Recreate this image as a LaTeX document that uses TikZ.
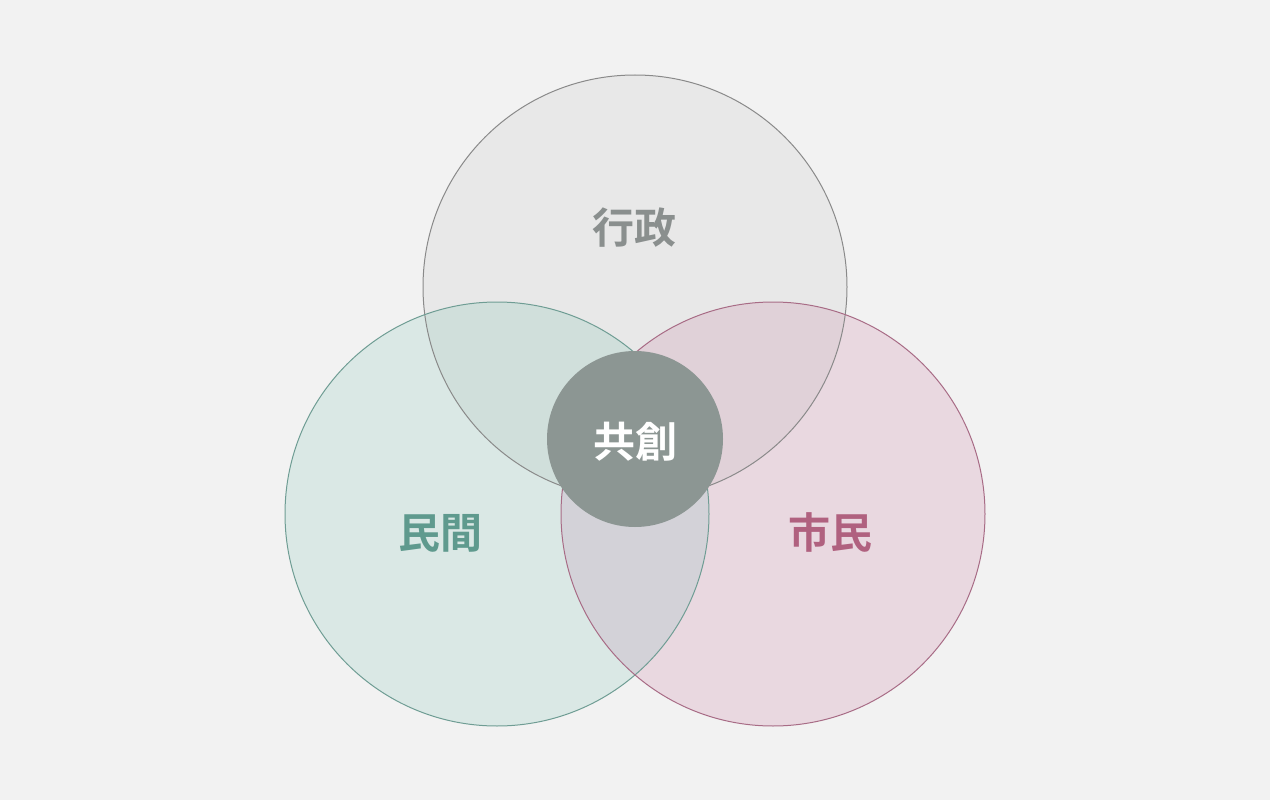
\documentclass[tikz,border=0pt]{standalone}
\usepackage{fontspec}
\newfontfamily\cjk{Noto Sans CJK JP}[BoldFont={* Bold}]
\definecolor{bg}{HTML}{F2F2F2}
\definecolor{topfill}{HTML}{E8E8E8}
\definecolor{leftfill}{HTML}{DAE8E5}
\definecolor{rightfill}{HTML}{E9D8E0}
\definecolor{tlfill}{HTML}{D0DFDB}
\definecolor{trfill}{HTML}{E0D1D8}
\definecolor{lrfill}{HTML}{D3D2D8}
\definecolor{topline}{HTML}{8A8A8A}
\definecolor{leftline}{HTML}{6F9D94}
\definecolor{rightline}{HTML}{A86C86}
\definecolor{coreclr}{HTML}{8C9693}
\definecolor{toptext}{HTML}{8A8F8E}
\definecolor{lefttext}{HTML}{5F9A8E}
\definecolor{righttext}{HTML}{B0617F}
\tikzset{
  lbl/.style={font=\cjk\bfseries\fontsize{42}{42}\selectfont, inner sep=0pt},
  ring/.style={line width=1pt}
}
\begin{document}
\begin{tikzpicture}[x=1pt,y=-1pt]
\fill[bg] (0,0) rectangle (1270,800);
\useasboundingbox (0,0) rectangle (1270,800);
\def\rr{212}
\coordinate (T) at (635,287);
\coordinate (L) at (497,514);
\coordinate (R) at (773,514);
% single fills
\fill[topfill] (T) circle[radius=\rr];
\fill[leftfill] (L) circle[radius=\rr];
\fill[rightfill] (R) circle[radius=\rr];
% pairwise overlaps
\begin{scope}
  \clip (T) circle[radius=\rr];
  \fill[tlfill] (L) circle[radius=\rr];
\end{scope}
\begin{scope}
  \clip (T) circle[radius=\rr];
  \fill[trfill] (R) circle[radius=\rr];
\end{scope}
\begin{scope}
  \clip (L) circle[radius=\rr];
  \fill[lrfill] (R) circle[radius=\rr];
\end{scope}
% outlines
\draw[ring,topline] (T) circle[radius=\rr];
\draw[ring,leftline] (L) circle[radius=\rr];
\draw[ring,rightline] (R) circle[radius=\rr];
% core
\node[circle, fill=coreclr, minimum size=176pt, inner sep=0pt] (core) at (635,439) {};
\node[lbl, text=white] (kyoso) at (635,442) {共創};
\node[lbl, text=toptext] (gyosei) at (634,228) {行政};
\node[lbl, text=lefttext] (minkan) at (440,533) {民間};
\node[lbl, text=righttext] (shimin) at (830,532) {市民};
\end{tikzpicture}
\end{document}
